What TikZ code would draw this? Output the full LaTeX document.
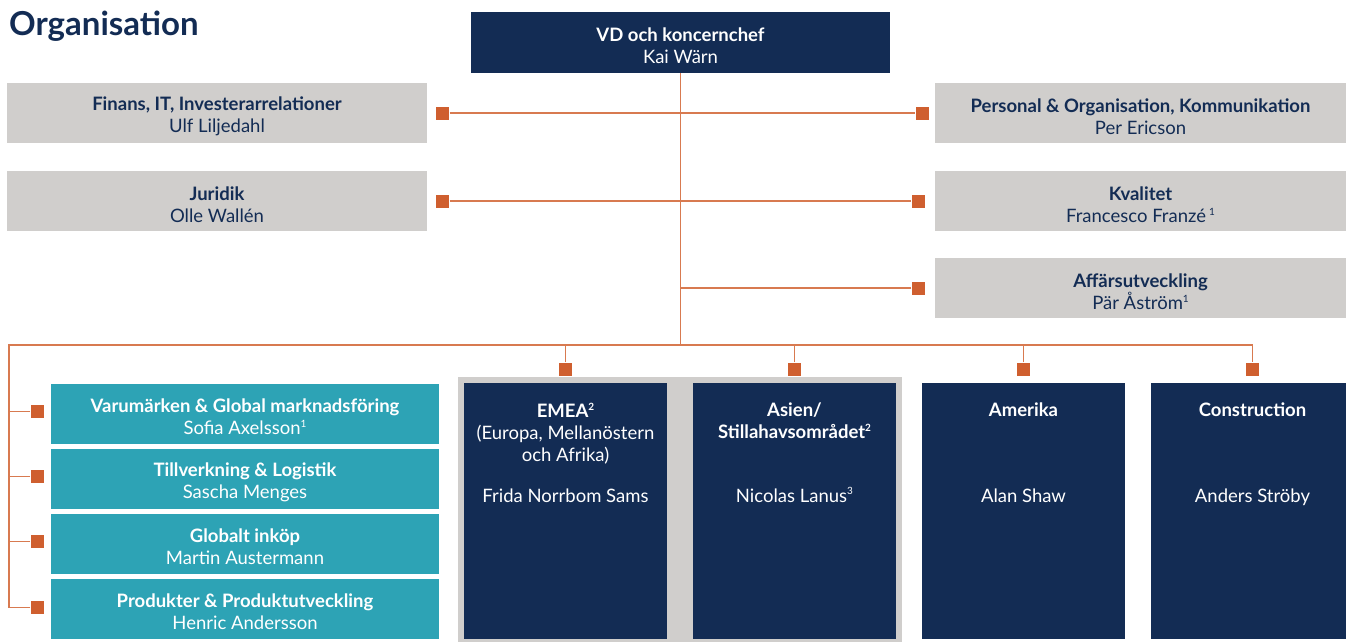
\documentclass[tikz,border=0pt]{standalone}
\usepackage{fontspec}
\setmainfont{Lato}
\usetikzlibrary{positioning, fit, backgrounds}
\definecolor{navy}{HTML}{132C54}
\definecolor{boxgrey}{HTML}{D0CECC}
\definecolor{teal}{HTML}{2DA3B5}
\definecolor{rust}{HTML}{CF5F2F}
\definecolor{rustline}{HTML}{D87A50}
\newcommand{\fnote}[1]{\raisebox{0.75ex}{\fontsize{10}{10}\selectfont #1}}
\newcommand{\hd}[1]{\rule{0pt}{21pt}\textbf{#1}}

\begin{document}
\begin{tikzpicture}[
    x=1pt, y=-1pt,
    font=\fontsize{18.5}{22}\selectfont,
    box/.style={rectangle, fill=#1, inner sep=0pt, minimum height=60pt, align=center},
    gbox/.style={box=boxgrey, text=navy, minimum width=420pt},
    pbox/.style={box=boxgrey, text=navy, minimum width=411pt},
    tbox/.style={box=teal, text=white, minimum width=388pt},
    rbox/.style={box=navy, minimum width=203pt, minimum height=256pt},
    rtext/.style={text=white, align=center, inner sep=0pt},
    sq/.style={rectangle, fill=rust, minimum size=13pt, inner sep=0pt},
    link/.style={draw=rustline, line width=1.8pt}
]
\useasboundingbox (0,0) rectangle (1346,641);

% title
\node[anchor=base west, text=navy, font=\fontsize{33}{36}\selectfont\bfseries, inner sep=0pt] (title) at (9,35) {Organisation};

% top
\node[box=navy, text=white, minimum width=419pt, minimum height=61pt] (vd) at (680.5,42.5) {\hd{VD och koncernchef}\\Kai Wärn};

% staff functions
\node[gbox] (fin) at (217,113) {\hd{Finans, IT, Investerarrelationer}\\Ulf Liljedahl};
\node[gbox] (jur) at (217,201) {\hd{Juridik}\\Olle Wallén};
\node[pbox] (pers) at (1140.5,113) {\hd{Personal \& Organisation, Kommunikation}\\Per Ericson};
\node[pbox] (kval) at (1140.5,201) {\hd{Kvalitet}\\Francesco Franzé\,\fnote{1}};
\node[pbox] (aff) at (1140.5,288) {\hd{Affärsutveckling}\\Pär Åström\fnote{1}};

\node[sq, right=9pt of fin] (sqFin) {};
\node[sq, right=9pt of jur] (sqJur) {};
\node[sq, left=6pt of pers] (sqPers) {};
\node[sq, left=10pt of kval] (sqKval) {};
\node[sq, left=10pt of aff] (sqAff) {};

% group functions
\node[tbox] (var) at (245,413.5) {\hd{Varumärken \& Global marknadsföring}\\Sofia Axelsson\fnote{1}};
\node[tbox] (till) at (245,478.5) {\hd{Tillverkning \& Logistik}\\Sascha Menges};
\node[tbox] (ink) at (245,543.5) {\hd{Globalt inköp}\\Martin Austermann};
\node[tbox] (prod) at (245,608.5) {\hd{Produkter \& Produktutveckling}\\Henric Andersson};

\node[sq, left=7pt of var, yshift=2pt] (sqVar) {};
\node[sq, left=7pt of till, yshift=2pt] (sqTill) {};
\node[sq, left=7pt of ink, yshift=2pt] (sqInk) {};
\node[sq, left=7pt of prod, yshift=1pt] (sqProd) {};

% business areas
\node[rbox] (emea) at (565.5,511) {};
\node[rbox] (asia) at (794.5,511) {};
\node[rbox] (amer) at (1023.5,511) {};
\node[rbox] (cons) at (1252.5,511) {};
\begin{scope}[on background layer]
\node[fit=(emea)(asia), fill=boxgrey, inner xsep=6pt, inner ysep=6pt] (reg) {};
\end{scope}

\coordinate (titleY) at (0,403);
\coordinate (nameY) at (0,502);
\node[rtext, anchor=north] (emeaT) at (emea |- titleY) {\textbf{EMEA\fnote{2}}\\(Europa, Mellanöstern\\och Afrika)};
\node[rtext, anchor=north] (asiaT) at (asia |- titleY) {\textbf{Asien/}\\\textbf{Stillahavsområdet\fnote{2}}};
\node[rtext, anchor=north] (amerT) at (amer |- titleY) {\textbf{Amerika}};
\node[rtext, anchor=north] (consT) at (cons |- titleY) {\textbf{Construction}};
\node[rtext, anchor=base] (emeaN) at (emea |- nameY) {Frida Norrbom Sams};
\node[rtext, anchor=base] (asiaN) at (asia |- nameY) {Nicolas Lanus\fnote{3}};
\node[rtext, anchor=base] (amerN) at (amer |- nameY) {Alan Shaw};
\node[rtext, anchor=base] (consN) at (cons |- nameY) {Anders Ströby};

\node[sq, above=7pt of emea] (sqEmea) {};
\node[sq, above=7pt of asia] (sqAsia) {};
\node[sq, above=7pt of amer] (sqAmer) {};
\node[sq, above=7pt of cons] (sqCons) {};

% connectors
\coordinate (bus) at (680.5,345);
\coordinate (busL) at (9,345);
\draw[link] (vd.south) -- (bus);
\draw[link] (sqFin) -- (sqPers);
\draw[link] (sqJur) -- (sqKval);
\draw[link] (sqAff) -- (sqAff -| bus);
\draw[link] (sqProd.west) -| (busL) -| (sqCons.north);
\foreach \s in {sqVar, sqTill, sqInk}
    \draw[link] (\s.west) -- (\s.west -| busL);
\foreach \s in {sqEmea, sqAsia, sqAmer}
    \draw[link] (\s.north) -- (\s.north |- busL);
\end{tikzpicture}
\end{document}
